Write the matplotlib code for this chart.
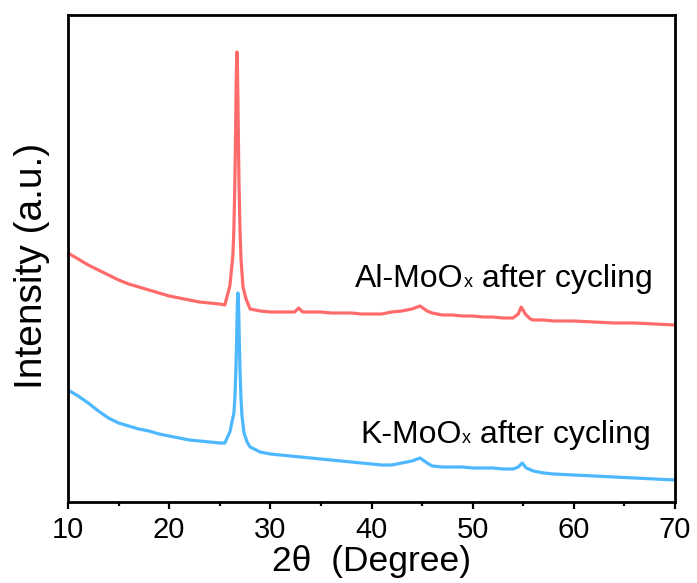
import matplotlib
matplotlib.use("Agg")
import matplotlib.pyplot as plt
from matplotlib.offsetbox import TextArea, HPacker, AnnotationBbox

plt.rcParams['font.family'] = ['Liberation Sans', 'DejaVu Sans']

# ---- data (2theta in degrees, intensity in arbitrary units) ----
al_x = [10, 11, 12, 13, 14, 15, 16, 17, 18, 19, 20, 21, 22, 23, 24, 25, 25.5,
        26.0, 26.3, 26.4, 26.5, 26.55, 26.6, 26.65, 26.7, 26.75, 26.8, 26.85, 26.9,
        27.0, 27.1, 27.3, 27.6, 28, 29, 30, 31, 32, 32.4, 32.8, 33.2, 34, 35, 36,
        37, 38, 39, 40, 41, 42, 43, 44, 44.8, 45.5, 46, 47, 48, 49, 50, 51, 52,
        53, 54, 54.5, 54.8, 55.2, 55.7, 56, 57, 58, 59, 60, 62, 64, 66, 68, 70]
al_y = [249, 243, 237, 232, 227, 222, 218, 215, 212, 209, 206, 204, 202, 200, 199, 198, 197,
        216, 247, 274, 323, 358, 398, 434, 450, 434, 398, 358, 321,
        272, 243, 215, 203, 193, 191, 190, 190, 190, 190, 194, 190, 190, 190, 189,
        189, 189, 188, 188, 188, 190, 191, 193, 196, 191, 189, 187, 187, 186, 186, 185, 185,
        184, 184, 188, 195, 188, 183, 182, 182, 181, 181, 181, 180, 179, 179, 178, 177]

k_x = [10, 11, 12, 13, 14, 15, 16, 17, 18, 19, 20, 21, 22, 23, 24, 25, 25.5,
       26.0, 26.4, 26.5, 26.6, 26.65, 26.7, 26.75, 26.8, 26.85, 26.9, 26.95, 27.0,
       27.1, 27.2, 27.4, 27.7, 28, 29, 30, 31, 32, 33, 34, 35, 36, 37, 38, 39, 40,
       41, 42, 43, 44, 44.8, 45.5, 46, 47, 48, 49, 50, 51, 52, 53, 54, 54.5, 54.9,
       55.3, 56, 57, 58, 60, 62, 64, 66, 68, 70]
k_y = [112, 106, 99, 91, 84, 79, 76, 73, 71, 68, 66, 64, 62, 61, 60, 59, 59,
       70, 89, 105, 134, 155, 179, 200, 209, 200, 178, 154, 132,
       103, 86, 69, 60, 55, 50, 48, 47, 46, 45, 44, 43, 42, 41, 40, 39, 38,
       37, 37, 39, 41, 44, 39, 36, 35, 35, 35, 34, 34, 34, 33, 33, 35, 39,
       34, 31, 29, 28, 27, 26, 25, 24, 23, 22]

labels = ["Al-MoO", "x", " after cycling"]
k_labels = ["K-MoO", "x", " after cycling"]
xticks = [10, 20, 30, 40, 50, 60, 70]

red = "#FF6B6B"
blue = "#4DB8FF"

fig = plt.figure(figsize=(6.97, 5.83), dpi=100)
ax = fig.add_axes([68/697, 81/583, 607/697, 487/583])

ax.plot(al_x, al_y, color=red, lw=2.3, solid_joinstyle='round')
ax.plot(k_x, k_y, color=blue, lw=2.3, solid_joinstyle='round')

ax.set_xlim(10, 70)
ax.set_ylim(0, 487)
ax.set_xticks(xticks)
ax.set_xticks([15, 25, 35, 45, 55, 65], minor=True)
ax.set_yticks([])
ax.tick_params(axis='x', which='major', direction='out', length=5, width=1.6,
               labelsize=21, pad=5)
ax.tick_params(axis='x', which='minor', direction='out', length=3, width=1.6)
for s in ax.spines.values():
    s.set_linewidth(2.0)

ax.set_xlabel("2θ  (Degree)", fontsize=25.5, labelpad=1)
ax.set_ylabel("Intensity (a.u.)", fontsize=28)
ax.yaxis.set_label_coords(-0.03, 0.485)


def add_label(parts, x, y):
    tas = [TextArea(parts[0], textprops=dict(fontsize=23)),
           TextArea(parts[1], textprops=dict(fontsize=13)),
           TextArea(parts[2], textprops=dict(fontsize=23))]
    box = HPacker(children=tas, align="baseline", pad=0, sep=0)
    ab = AnnotationBbox(box, (x, y), xycoords='data', box_alignment=(0, 0),
                        frameon=False, pad=0)
    ax.add_artist(ab)


add_label(labels, 38.4, 208)
add_label(k_labels, 38.9, 52)

fig.savefig("out.png", dpi=100)
